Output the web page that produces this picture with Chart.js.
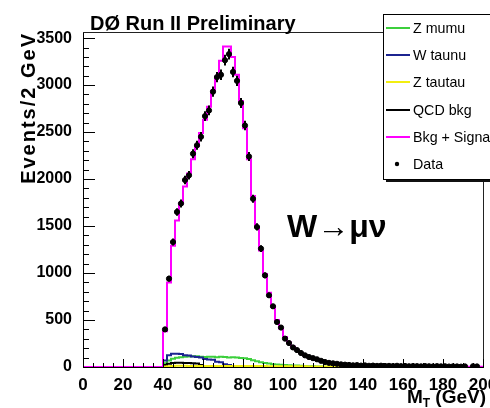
<!DOCTYPE html>
<html>
<head>
<meta charset="utf-8">
<title>W to mu nu - transverse mass</title>
<script src="https://cdn.jsdelivr.net/npm/chart.js@4.4.1/dist/chart.umd.min.js"></script>
<style>
  html, body { margin: 0; padding: 0; background: #fff; }
  #wrap { width: 490px; height: 408px; }
</style>
</head>
<body>
<div id="wrap"><canvas id="mtChart" width="490" height="408"></canvas></div>
<script>
// 2 GeV bins from 0 to 200 GeV, one value per bin
const binWidth = 2;

const xTickValues = [0, 20, 40, 60, 80, 100, 120, 140, 160, 180, 200];
const yTickValues = [0, 500, 1000, 1500, 2000, 2500, 3000, 3500];

const bkgSignal = [
    0, 0, 0, 0, 0, 0, 0, 0, 0, 0,
    0, 0, 0, 0, 0, 0, 0, 0, 0, 0,
    380, 900, 1290, 1560, 1740, 1920, 2060, 2210, 2350, 2490,
    2630, 2770, 2940, 3090, 3260, 3410, 3410, 3300, 3110, 2830,
    2540, 2210, 1820, 1490, 1240, 990, 790, 640, 500, 410,
    320, 260, 215, 180, 150, 125, 105, 90, 78, 64,
    53, 45, 39, 33, 28, 24, 21, 18, 16, 14,
    13, 12, 11, 10, 10, 9, 9, 8, 8, 7,
    7, 7, 6, 6, 6, 5, 5, 5, 4, 4,
    4, 4, 3, 3, 3, 3, 2, 2, 2, 2
];

const dataEvents = [
    null, null, null, null, null, null, null, null, null, null,
    null, null, null, null, null, null, null, null, null, null,
    400, 940, 1330, 1650, 1740, 1990, 2040, 2270, 2360, 2450,
    2670, 2730, 2930, 3085, 3110, 3265, 3330, 3140, 3045, 2810,
    2570, 2240, 1790, 1490, 1260, 975, 763, 646, 479, 420,
    302, 255, 208, 180, 149, 124, 106, 94, 82, 66,
    53, 44, 39, 34, 28, 25, 22, 18, 20, 15,
    17, 13, 15, 12, 14, 11, 12, 10, 13, 9,
    11, 8, 10, 9, 7, 10, 8, 6, 9, 7,
    8, 5, 7, 6, 4, 6, null, 8, 6, null
];

const zMumu = [
    0, 0, 0, 0, 0, 0, 0, 0, 0, 0,
    0, 0, 0, 0, 0, 0, 0, 0, 0, 0,
    40, 70, 88, 98, 105, 108, 112, 115, 114, 110,
    106, 110, 108, 104, 108, 106, 102, 104, 100, 96,
    92, 84, 72, 60, 50, 42, 36, 30, 26, 23,
    20, 18, 17, 15, 13, 11, 9, 7, 5, 4,
    3, 2, 1, 1, 1, 0, 0, 0, 0, 0,
    0, 0, 0, 0, 0, 0, 0, 0, 0, 0,
    0, 0, 0, 0, 0, 0, 0, 0, 0, 0,
    0, 0, 0, 0, 0, 0, 0, 0, 0, 0
];

const wTaunu = [
    0, 0, 0, 0, 0, 0, 0, 0, 0, 0,
    0, 0, 0, 0, 0, 0, 0, 0, 0, 0,
    70, 125, 140, 142, 138, 126, 122, 112, 106, 100,
    86, 80, 78, 55, 50, 28, 22, 4, 2, 0,
    0, 0, 0, 0, 0, 0, 0, 0, 0, 0,
    0, 0, 0, 0, 0, 0, 0, 0, 0, 0,
    0, 0, 0, 0, 0, 0, 0, 0, 0, 0,
    0, 0, 0, 0, 0, 0, 0, 0, 0, 0,
    0, 0, 0, 0, 0, 0, 0, 0, 0, 0,
    0, 0, 0, 0, 0, 0, 0, 0, 0, 0
];

const zTautau = [
    0, 0, 0, 0, 0, 0, 0, 0, 0, 0,
    0, 0, 0, 0, 0, 0, 0, 0, 0, 0,
    4, 8, 10, 12, 12, 12, 11, 11, 11, 11,
    11, 11, 11, 11, 11, 11, 10, 10, 10, 10,
    10, 10, 10, 10, 10, 10, 8, 8, 8, 8,
    8, 8, 8, 8, 8, 8, 6, 6, 6, 6,
    6, 4, 4, 4, 4, 4, 2, 0, 0, 0,
    0, 0, 0, 0, 0, 0, 0, 0, 0, 0,
    0, 0, 0, 0, 0, 0, 0, 0, 0, 0,
    0, 0, 0, 0, 0, 0, 0, 0, 0, 0
];

const qcdBkg = [
    0, 0, 0, 0, 0, 0, 0, 0, 0, 0,
    0, 0, 0, 0, 0, 0, 0, 0, 0, 0,
    20, 35, 42, 44, 44, 43, 42, 40, 38, 20,
    5, 2, 0, 0, 0, 0, 0, 0, 0, 0,
    0, 0, 0, 0, 0, 0, 0, 0, 0, 0,
    0, 0, 0, 0, 0, 0, 0, 0, 0, 0,
    0, 0, 0, 0, 0, 0, 0, 0, 0, 0,
    0, 0, 0, 0, 0, 0, 0, 0, 0, 0,
    0, 0, 0, 0, 0, 0, 0, 0, 0, 0,
    0, 0, 0, 0, 0, 0, 0, 0, 0, 0
];

const legendNames = ['Z mumu', 'W taunu', 'Z tautau', 'QCD bkg', 'Bkg + Signal', 'Data'];
const legendColors = ['#3ccf3c', '#1c2490', '#f2ee10', '#000000', '#ff00ff', '#000000'];

const mainFont = "'Liberation Sans', Arial, Helvetica, sans-serif";

// histogram outline: one point per low edge, plus the last high edge
function histPoints(values) {
    const pts = values.map((v, i) => ({ x: i * binWidth, y: v }));
    pts.push({ x: values.length * binWidth, y: values[values.length - 1] });
    return pts;
}

function dataPoints(values) {
    const pts = [];
    values.forEach((v, i) => {
        if (v !== null) pts.push({ x: i * binWidth + binWidth / 2, y: v });
    });
    return pts;
}

function histSet(label, values, color, order) {
    return {
        type: 'line',
        label: label,
        data: histPoints(values),
        borderColor: color,
        borderWidth: 2,
        stepped: true,
        pointRadius: 0,
        fill: false,
        order: order
    };
}

const rootStyle = {
    id: 'rootStyle',
    afterDatasetsDraw(chart) {
        const ctx = chart.ctx;
        const x = chart.scales.x;
        const y = chart.scales.y;
        // error bars on data
        ctx.save();
        ctx.strokeStyle = '#000';
        ctx.lineWidth = 2;
        dataEvents.forEach((v, i) => {
            if (v === null) return;
            const px = x.getPixelForValue(i * binWidth + binWidth / 2);
            const err = Math.sqrt(v);
            ctx.beginPath();
            ctx.moveTo(px, y.getPixelForValue(v - err));
            ctx.lineTo(px, y.getPixelForValue(v + err));
            ctx.stroke();
        });
        ctx.restore();
    },
    afterDraw(chart) {
        const ctx = chart.ctx;
        const a = chart.chartArea;
        const x = chart.scales.x;
        const y = chart.scales.y;
        ctx.save();

        // frame top / right
        ctx.strokeStyle = '#222';
        ctx.lineWidth = 1;
        ctx.beginPath();
        ctx.moveTo(a.left, a.top + 0.5);
        ctx.lineTo(a.right + 0.5, a.top + 0.5);
        ctx.lineTo(a.right + 0.5, a.bottom);
        ctx.stroke();

        // inside ticks, root style
        ctx.strokeStyle = '#000';
        ctx.beginPath();
        for (let v = 0; v <= 3500; v += 100) {
            const py = Math.round(y.getPixelForValue(v)) + 0.5;
            const len = v % 500 === 0 ? 12 : 6;
            ctx.moveTo(a.left, py);
            ctx.lineTo(a.left + len, py);
        }
        for (let v = 0; v <= 200; v += 5) {
            const px = Math.round(x.getPixelForValue(v)) + 0.5;
            const len = v % 20 === 0 ? 8 : 4;
            ctx.moveTo(px, a.bottom);
            ctx.lineTo(px, a.bottom - len);
        }
        ctx.stroke();

        // title
        ctx.fillStyle = '#000';
        ctx.textAlign = 'left';
        ctx.textBaseline = 'alphabetic';
        ctx.font = 'bold 20px ' + mainFont;
        ctx.fillText('DØ Run II Preliminary', 90, 30);

        // process label
        ctx.font = 'bold 32px ' + mainFont;
        ctx.fillText('W→μν', 287, 237);

        // x axis title with subscript
        const big = 'bold 19px ' + mainFont;
        const small = 'bold 12px ' + mainFont;
        ctx.font = big;
        const wM = ctx.measureText('M').width;
        const wRest = ctx.measureText(' (GeV)').width;
        ctx.font = small;
        const wT = ctx.measureText('T').width;
        let tx = 486 - (wM + wT + wRest);
        ctx.font = big;
        ctx.fillText('M', tx, 403);
        ctx.font = small;
        ctx.fillText('T', tx + wM, 407);
        ctx.font = big;
        ctx.fillText(' (GeV)', tx + wM + wT, 403);

        // y axis title, aligned to the top
        ctx.save();
        ctx.translate(29, 32);
        ctx.rotate(-Math.PI / 2);
        ctx.textAlign = 'right';
        ctx.textBaseline = 'middle';
        ctx.letterSpacing = '2px';
        ctx.font = 'bold 20px ' + mainFont;
        ctx.fillText('Events/2 GeV', 0, 0);
        ctx.restore();

        // legend box with shadow
        const lx = 383, ly = 14, lw = 130, lh = 165;
        ctx.fillStyle = '#111';
        ctx.fillRect(lx + 3, ly + 3, lw, lh);
        ctx.fillStyle = '#fff';
        ctx.fillRect(lx, ly, lw, lh);
        ctx.strokeStyle = '#000';
        ctx.lineWidth = 1;
        ctx.strokeRect(lx + 0.5, ly + 0.5, lw, lh);

        legendNames.forEach((name, i) => {
            const ey = Math.round(28 + i * 27.2);
            if (name === 'Data') {
                ctx.fillStyle = '#000';
                ctx.beginPath();
                ctx.arc(397, ey, 2.2, 0, Math.PI * 2);
                ctx.fill();
            } else {
                ctx.strokeStyle = legendColors[i];
                ctx.lineWidth = 2;
                ctx.beginPath();
                ctx.moveTo(386, ey);
                ctx.lineTo(410, ey);
                ctx.stroke();
            }
            // slightly narrowed, like the helvetica in the original
            ctx.save();
            ctx.translate(413, ey + 1);
            ctx.scale(0.95, 1);
            ctx.fillStyle = '#000';
            ctx.font = '15px ' + mainFont;
            ctx.textBaseline = 'middle';
            ctx.textAlign = 'left';
            ctx.fillText(name, 0, 0);
            ctx.restore();
        });

        ctx.restore();
    }
};

Chart.defaults.font.family = mainFont;
Chart.defaults.color = '#000';

const el = document.getElementById('mtChart');
new Chart(el, {
    data: {
        datasets: [
            {
                type: 'scatter',
                label: 'Data',
                data: dataPoints(dataEvents),
                backgroundColor: '#000',
                borderColor: '#000',
                pointRadius: 2.6,
                order: 0
            },
            histSet('Bkg + Signal', bkgSignal, legendColors[4], 1),
            histSet('Z tautau', zTautau, legendColors[2], 2),
            histSet('QCD bkg', qcdBkg, legendColors[3], 3),
            histSet('W taunu', wTaunu, legendColors[1], 4),
            histSet('Z mumu', zMumu, legendColors[0], 5)
        ]
    },
    options: {
        responsive: false,
        animation: false,
        devicePixelRatio: 1,
        layout: {
            padding: { top: 32, right: 7, left: 0, bottom: 0 }
        },
        plugins: {
            legend: { display: false },
            tooltip: { enabled: false },
            title: { display: false }
        },
        scales: {
            x: {
                type: 'linear',
                min: 0,
                max: 200,
                grid: { display: false },
                border: { display: true, color: '#000', width: 1 },
                afterBuildTicks: function (s) {
                    s.ticks = xTickValues.map(v => ({ value: v }));
                },
                ticks: {
                    autoSkip: false,
                    maxRotation: 0,
                    padding: 0,
                    color: '#000',
                    font: { size: 17, weight: 'bold' },
                    callback: v => String(v)
                },
                afterFit: function (s) {
                    s.height = 41;
                    s.paddingLeft = 0;
                    s.paddingRight = 0;
                }
            },
            y: {
                type: 'linear',
                min: 0,
                max: 3565,
                grid: { display: false },
                border: { display: true, color: '#000', width: 1 },
                afterBuildTicks: function (s) {
                    s.ticks = yTickValues.map(v => ({ value: v }));
                },
                ticks: {
                    autoSkip: false,
                    padding: 3,
                    color: '#000',
                    font: { size: 16, weight: 'bold' },
                    callback: v => String(v)
                },
                afterFit: function (s) {
                    s.width = 83;
                    s.paddingTop = 0;
                    s.paddingBottom = 0;
                }
            }
        }
    },
    plugins: [rootStyle]
});
</script>
</body>
</html>
